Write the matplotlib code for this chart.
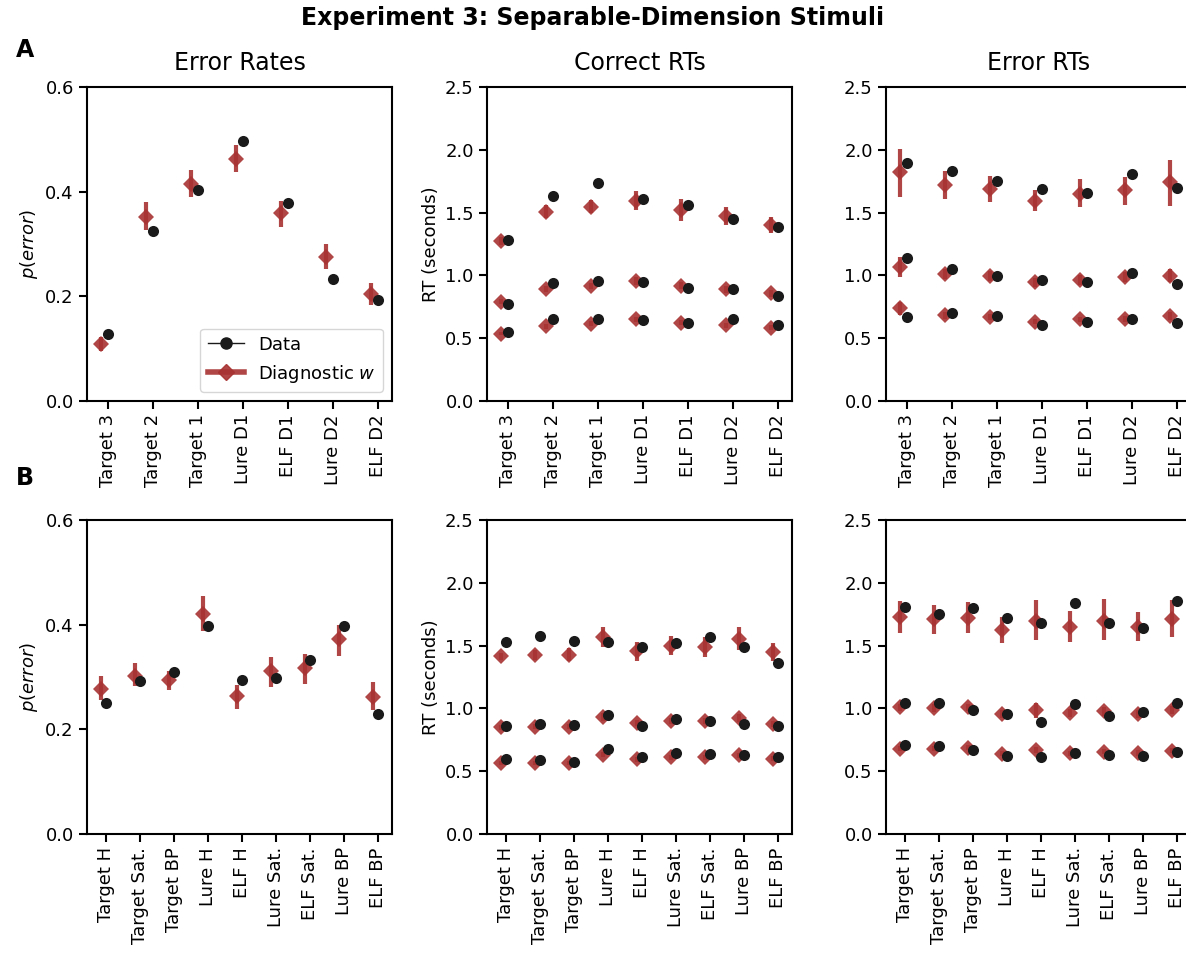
import numpy as np
import matplotlib
matplotlib.use("Agg")
import matplotlib.pyplot as plt
from matplotlib.lines import Line2D

# ---------------- data ----------------
cats_A = ["Target 3", "Target 2", "Target 1", "Lure D1", "ELF D1", "Lure D2", "ELF D2"]
cats_B = ["Target H", "Target Sat.", "Target BP", "Lure H", "ELF H",
          "Lure Sat.", "ELF Sat.", "Lure BP", "ELF BP"]

# Row A: error rates
A_err_data = [0.128, 0.324, 0.403, 0.497, 0.378, 0.233, 0.193]
A_err_model = [0.108, 0.351, 0.415, 0.462, 0.359, 0.276, 0.205]
A_err_lo = [0.096, 0.327, 0.389, 0.437, 0.333, 0.253, 0.184]
A_err_hi = [0.122, 0.380, 0.442, 0.489, 0.383, 0.300, 0.226]

# Row A: correct RT quantiles (0.9, 0.5, 0.1)
A_crt_data_q90 = [1.282, 1.636, 1.734, 1.612, 1.559, 1.452, 1.388]
A_crt_data_q50 = [0.771, 0.939, 0.955, 0.949, 0.902, 0.891, 0.835]
A_crt_data_q10 = [0.548, 0.654, 0.649, 0.646, 0.622, 0.652, 0.604]
A_crt_model_q90 = [1.274, 1.508, 1.548, 1.596, 1.521, 1.473, 1.399]
A_crt_model_q50 = [0.790, 0.894, 0.915, 0.955, 0.918, 0.888, 0.856]
A_crt_model_q10 = [0.537, 0.596, 0.614, 0.649, 0.625, 0.604, 0.585]
A_crt_hw_q90 = [0.030, 0.050, 0.055, 0.075, 0.090, 0.070, 0.065]
A_crt_hw_q50 = [0.020, 0.025, 0.025, 0.030, 0.030, 0.030, 0.030]
A_crt_hw_q10 = [0.015, 0.020, 0.020, 0.020, 0.020, 0.020, 0.020]

# Row A: error RT quantiles
A_ert_data_q90 = [1.891, 1.832, 1.750, 1.686, 1.660, 1.806, 1.699]
A_ert_data_q50 = [1.136, 1.048, 0.997, 0.960, 0.944, 1.016, 0.934]
A_ert_data_q10 = [0.668, 0.699, 0.678, 0.609, 0.628, 0.654, 0.625]
A_ert_model_q90 = [1.822, 1.718, 1.686, 1.596, 1.649, 1.676, 1.742]
A_ert_lo_q90 = [1.628, 1.606, 1.585, 1.516, 1.543, 1.561, 1.556]
A_ert_hi_q90 = [2.008, 1.835, 1.793, 1.681, 1.769, 1.782, 1.920]
A_ert_model_q50 = [1.069, 1.008, 0.997, 0.944, 0.963, 0.984, 0.997]
A_ert_hw_q50 = [0.080, 0.040, 0.040, 0.035, 0.040, 0.040, 0.050]
A_ert_model_q10 = [0.737, 0.681, 0.670, 0.630, 0.649, 0.654, 0.676]
A_ert_hw_q10 = [0.050, 0.025, 0.025, 0.020, 0.020, 0.025, 0.030]

# Row B: error rates
B_err_data = [0.250, 0.293, 0.309, 0.397, 0.294, 0.299, 0.332, 0.397, 0.230]
B_err_model = [0.277, 0.302, 0.294, 0.420, 0.263, 0.312, 0.317, 0.373, 0.262]
B_err_lo = [0.257, 0.282, 0.276, 0.387, 0.239, 0.280, 0.287, 0.341, 0.236]
B_err_hi = [0.302, 0.327, 0.312, 0.454, 0.284, 0.338, 0.344, 0.400, 0.290]

# Row B: correct RT quantiles
B_crt_data_q90 = [1.529, 1.579, 1.534, 1.526, 1.492, 1.521, 1.571, 1.489, 1.361]
B_crt_data_q50 = [0.857, 0.876, 0.870, 0.945, 0.863, 0.916, 0.897, 0.876, 0.860]
B_crt_data_q10 = [0.600, 0.587, 0.576, 0.677, 0.610, 0.642, 0.637, 0.626, 0.610]
B_crt_model_q90 = [1.415, 1.428, 1.428, 1.566, 1.454, 1.499, 1.486, 1.555, 1.449]
B_crt_hw_q90 = [0.030, 0.040, 0.050, 0.080, 0.075, 0.075, 0.080, 0.090, 0.075]
B_crt_model_q50 = [0.849, 0.855, 0.855, 0.932, 0.881, 0.897, 0.897, 0.924, 0.876]
B_crt_hw_q50 = [0.020, 0.020, 0.020, 0.030, 0.025, 0.025, 0.025, 0.030, 0.025]
B_crt_model_q10 = [0.565, 0.565, 0.565, 0.632, 0.597, 0.610, 0.610, 0.626, 0.600]
B_crt_hw_q10 = [0.015, 0.015, 0.015, 0.020, 0.020, 0.020, 0.020, 0.020, 0.020]

# Row B: error RT quantiles
B_ert_data_q90 = [1.807, 1.754, 1.799, 1.717, 1.677, 1.836, 1.677, 1.640, 1.858]
B_ert_data_q50 = [1.043, 1.043, 0.985, 0.958, 0.889, 1.035, 0.937, 0.971, 1.043]
B_ert_data_q10 = [0.711, 0.703, 0.666, 0.618, 0.610, 0.642, 0.632, 0.618, 0.650]
B_ert_model_q90 = [1.728, 1.712, 1.720, 1.621, 1.699, 1.645, 1.693, 1.645, 1.714]
B_ert_lo_q90 = [1.600, 1.592, 1.600, 1.521, 1.542, 1.529, 1.542, 1.534, 1.569]
B_ert_hi_q90 = [1.858, 1.826, 1.844, 1.725, 1.863, 1.778, 1.874, 1.767, 1.866]
B_ert_model_q50 = [1.008, 1.003, 1.008, 0.955, 0.985, 0.963, 0.977, 0.955, 0.987]
B_ert_hw_q50 = [0.030, 0.030, 0.030, 0.030, 0.060, 0.030, 0.035, 0.030, 0.035]
B_ert_model_q10 = [0.677, 0.677, 0.685, 0.640, 0.669, 0.642, 0.653, 0.645, 0.661]
B_ert_hw_q10 = [0.020, 0.020, 0.020, 0.020, 0.025, 0.020, 0.020, 0.020, 0.020]

# ---------------- style ----------------
plt.rcParams.update({
    "font.family": "DejaVu Sans",
    "axes.linewidth": 1.5,
    "xtick.major.width": 1.5,
    "ytick.major.width": 1.5,
    "xtick.major.size": 6,
    "ytick.major.size": 6,
    "xtick.labelsize": 13,
    "ytick.labelsize": 13,
    "axes.labelsize": 13,
    "axes.titlesize": 17,
})

RED = "#a83232"
BLK = "#1a1a1a"
OFF = 0.16

W, H = 1186, 957
fig = plt.figure(figsize=(W / 100, H / 100), dpi=100)

col_left = [87, 487, 886]
row_top = [87, 520]
aw, ah = 305, 314


def make_ax(r, c):
    l = col_left[c] / W
    b = 1 - (row_top[r] + ah) / H
    return fig.add_axes([l, b, aw / W, ah / H])


def draw(ax, cats, rows):
    x = np.arange(len(cats))
    for data, model, lo, hi in rows:
        model = np.asarray(model)
        yerr = [model - np.asarray(lo), np.asarray(hi) - model]
        ax.errorbar(x - OFF, model, yerr=yerr, fmt="D", color=RED, ms=8.5,
                    elinewidth=3, capsize=0, alpha=0.9, zorder=2, mew=0)
        ax.plot(x, data, "o", color=BLK, ms=8, zorder=3, mew=0)
    ax.set_xticks(x)
    ax.set_xticklabels(cats, rotation=90)


def sym(model, hw):
    m = np.asarray(model)
    h = np.asarray(hw)
    return m - h, m + h


# Row A
ax = make_ax(0, 0)
draw(ax, cats_A, [(A_err_data, A_err_model, A_err_lo, A_err_hi)])
ax.set_ylim(0, 0.6)
ax.set_yticks([0.0, 0.2, 0.4, 0.6])
ax.set_ylabel(r"$p(error)$", fontsize=13)
ax.set_title("Error Rates", pad=12)
handles = [Line2D([], [], color=BLK, marker="o", ms=8, lw=1),
           Line2D([], [], color=RED, marker="D", ms=8.5, lw=4, alpha=0.9)]
ax.legend(handles, ["Data", r"Diagnostic $w$"], loc="lower right", fontsize=13)

ax = make_ax(0, 1)
draw(ax, cats_A, [
    (A_crt_data_q90, A_crt_model_q90, *sym(A_crt_model_q90, A_crt_hw_q90)),
    (A_crt_data_q50, A_crt_model_q50, *sym(A_crt_model_q50, A_crt_hw_q50)),
    (A_crt_data_q10, A_crt_model_q10, *sym(A_crt_model_q10, A_crt_hw_q10)),
])
ax.set_ylim(0, 2.5)
ax.set_ylabel("RT (seconds)")
ax.set_title("Correct RTs", pad=12)

ax = make_ax(0, 2)
draw(ax, cats_A, [
    (A_ert_data_q90, A_ert_model_q90, A_ert_lo_q90, A_ert_hi_q90),
    (A_ert_data_q50, A_ert_model_q50, *sym(A_ert_model_q50, A_ert_hw_q50)),
    (A_ert_data_q10, A_ert_model_q10, *sym(A_ert_model_q10, A_ert_hw_q10)),
])
ax.set_ylim(0, 2.5)
ax.set_title("Error RTs", pad=12)

# Row B
ax = make_ax(1, 0)
draw(ax, cats_B, [(B_err_data, B_err_model, B_err_lo, B_err_hi)])
ax.set_ylim(0, 0.6)
ax.set_yticks([0.0, 0.2, 0.4, 0.6])
ax.set_ylabel(r"$p(error)$", fontsize=13)

ax = make_ax(1, 1)
draw(ax, cats_B, [
    (B_crt_data_q90, B_crt_model_q90, *sym(B_crt_model_q90, B_crt_hw_q90)),
    (B_crt_data_q50, B_crt_model_q50, *sym(B_crt_model_q50, B_crt_hw_q50)),
    (B_crt_data_q10, B_crt_model_q10, *sym(B_crt_model_q10, B_crt_hw_q10)),
])
ax.set_ylim(0, 2.5)
ax.set_ylabel("RT (seconds)")

ax = make_ax(1, 2)
draw(ax, cats_B, [
    (B_ert_data_q90, B_ert_model_q90, B_ert_lo_q90, B_ert_hi_q90),
    (B_ert_data_q50, B_ert_model_q50, *sym(B_ert_model_q50, B_ert_hw_q50)),
    (B_ert_data_q10, B_ert_model_q10, *sym(B_ert_model_q10, B_ert_hw_q10)),
])
ax.set_ylim(0, 2.5)

fig.suptitle("Experiment 3: Separable-Dimension Stimuli", fontsize=17,
             fontweight="bold", y=1 - 18 / H, va="center")
fig.text(25 / W, 1 - 50 / H, "A", fontsize=17, fontweight="bold", ha="center", va="center")
fig.text(25 / W, 1 - 478 / H, "B", fontsize=17, fontweight="bold", ha="center", va="center")

fig.savefig("out.png", dpi=100)
